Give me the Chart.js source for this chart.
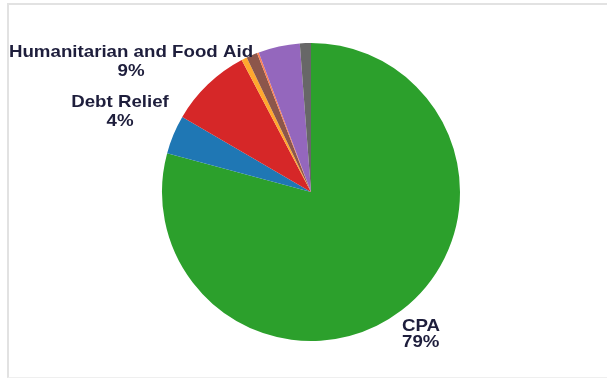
<!DOCTYPE html>
<html>
<head>
<meta charset="utf-8">
<title>Funding by category</title>
<script src="https://cdn.jsdelivr.net/npm/chart.js@4.4.1/dist/chart.umd.min.js"></script>
<style>
  html, body { margin: 0; padding: 0; background: #fff; }
  #wrap { position: relative; width: 607px; height: 378px; overflow: hidden; }
  #frame {
    position: absolute; left: 7px; top: 3px; width: 600px; height: 372px;
    border-top: 2px solid #e2e2e2; border-left: 2px solid #e2e2e2;
    border-bottom: 1px solid #efefef;
  }
  #pie { position: absolute; left: 0; top: 0; }
</style>
</head>
<body>
<div id="wrap">
  <div id="frame"></div>
  <canvas id="pie" width="607" height="378"></canvas>
</div>
<script>
// categories, clockwise from 12 o'clock
const categories = [
  'CPA',
  'Debt Relief',
  'Humanitarian and Food Aid',
  'Refugee Assistance',
  'Economic Support',
  'Migration',
  'Democracy and Governance',
  'Other'
]
// share of total funding, percent
const shares = [79.2, 4.2, 8.9, 0.6, 1.2, 0.2, 4.5, 1.2]
const colors = ['#2ca02c', '#1f77b4', '#d62728', '#ffa82e', '#8c564b', '#ff7f50', '#9467bd', '#676767']

// which slices get a name + percent label
const labelled = ['CPA', 'Debt Relief', 'Humanitarian and Food Aid']

// label placement relative to pie centre: [dx, dy of first baseline, line gap, align]
const labelSpots = {
  'CPA': [91, 139, 16, 'left'],
  'Debt Relief': [-191, -85, 19, 'center'],
  'Humanitarian and Food Aid': [-180, -135, 19, 'center']
}

const total = shares.reduce((a, b) => a + b, 0)

const sliceLabels = {
  id: 'sliceLabels',
  afterDatasetsDraw(chart) {
    const ctx = chart.ctx
    const arcs = chart.getDatasetMeta(0).data
    ctx.save()
    ctx.font = 'bold 17px "Liberation Sans", Arial, sans-serif'
    ctx.fillStyle = '#1e1e3c'
    ctx.textBaseline = 'alphabetic'
    labelled.forEach(name => {
      const i = categories.indexOf(name)
      const arc = arcs[i]
      const [dx, dy, gap, align] = labelSpots[name]
      const pct = Math.round(shares[i] / total * 100) + '%'
      ctx.textAlign = align
      // text in the source is a touch wider than plain Arial
      ctx.save()
      ctx.translate(arc.x + dx, arc.y + dy)
      ctx.scale(1.1, 1)
      ctx.fillText(name, 0, 0)
      ctx.fillText(pct, 0, gap)
      ctx.restore()
    })
    ctx.restore()
  }
}

new Chart(document.getElementById('pie'), {
  type: 'pie',
  data: {
    labels: categories,
    datasets: [{
      data: shares,
      backgroundColor: colors,
      borderWidth: 0
    }]
  },
  options: {
    responsive: false,
    animation: false,
    layout: { padding: { top: 43, bottom: 37, left: 162, right: 147 } },
    plugins: {
      legend: { display: false },
      tooltip: { enabled: false }
    }
  },
  plugins: [sliceLabels]
})
</script>
</body>
</html>
